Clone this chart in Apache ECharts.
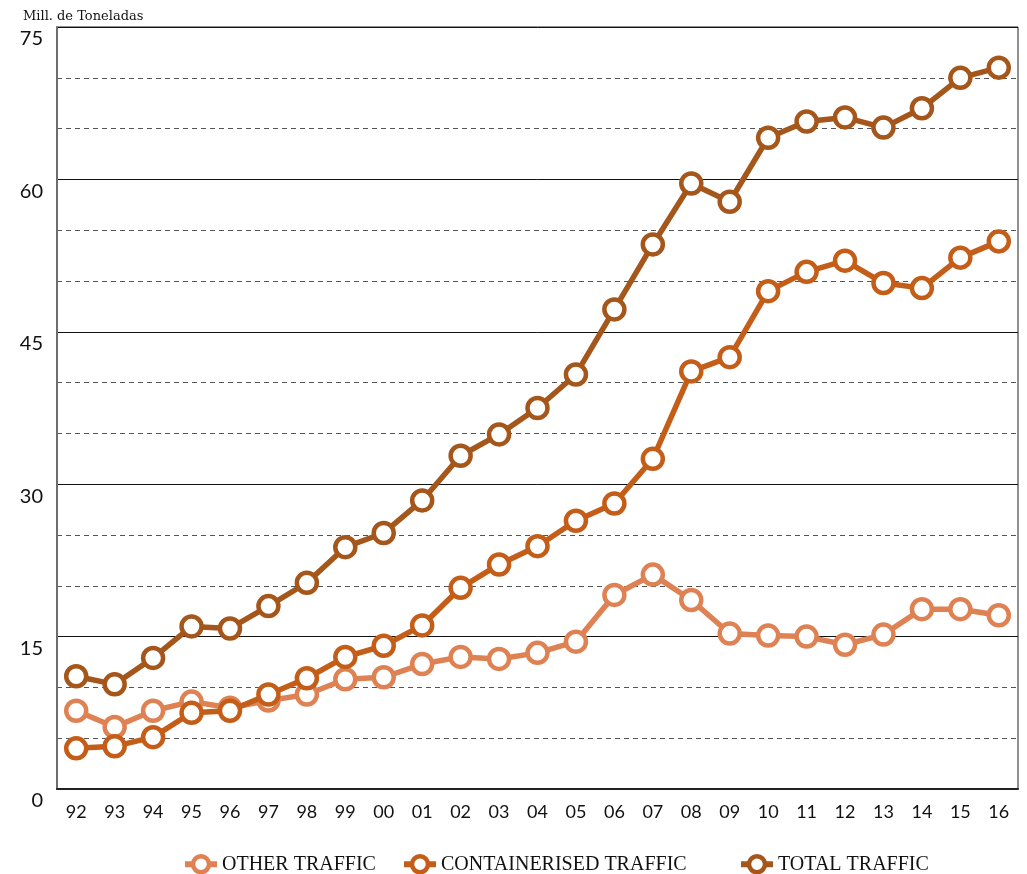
<!DOCTYPE html>
<html><head><meta charset="utf-8">
<script src="https://cdn.jsdelivr.net/npm/echarts@6/dist/echarts.min.js"></script>
<style>html,body{margin:0;padding:0;background:#fff}#c{width:1027px;height:874px}</style>
</head><body><div id="c"></div>
<script>
const years = ['92','93','94','95','96','97','98','99','00','01','02','03','04','05','06','07','08','09','10','11','12','13','14','15','16'];
const otherTraffic = [7.7,6.1,7.7,8.6,8.0,8.7,9.3,10.8,11.0,12.3,13.0,12.8,13.4,14.5,19.1,21.1,18.6,15.3,15.1,15.0,14.2,15.2,17.7,17.7,17.1];
const containerTraffic = [4.0,4.2,5.1,7.5,7.7,9.3,10.9,13.0,14.1,16.1,19.8,22.1,23.9,26.4,28.1,32.5,41.1,42.5,49.0,50.9,52.0,49.8,49.3,52.3,53.9];
const totalTraffic = [11.1,10.3,12.9,16.0,15.8,18.0,20.3,23.8,25.2,28.4,32.8,34.9,37.5,40.8,47.2,53.6,59.6,57.8,64.1,65.7,66.1,65.1,67.0,70.0,71.0];
const seriesNames = ['OTHER TRAFFIC','CONTAINERISED TRAFFIC','TOTAL TRAFFIC'];
const colors = ['#DF8253','#C45D18','#A5561B'];

const chart = echarts.init(document.getElementById('c'));
const mk = (name, data, color, z) => ({
  name, type: 'line', data, z,
  symbol: 'circle', symbolSize: 20,
  lineStyle: {color, width: 5.5},
  itemStyle: {color: '#fff', borderColor: color, borderWidth: 4.5},
  emphasis: {disabled: true}, animation: false
});
const legendBase = {
  top: 849, itemWidth: 32, itemHeight: 20, itemGap: 8,
  lineStyle: {width: 6},
  itemStyle: {borderWidth: 4.5},
  textStyle: {fontFamily: 'Liberation Serif', fontSize: 20, color: '#111'}
};
chart.setOption({
  animation: false,
  grid: {left: 57, right: 9, top: 27, bottom: 85, show: true, borderColor: '#222', borderWidth: 1},
  title: {text: 'Mill. de Toneladas', left: 18, top: 5,
    textStyle: {fontFamily: 'DejaVu Serif', fontWeight: 'normal', fontSize: 13, color: '#111'}},
  legend: [
    Object.assign({}, legendBase, {left: 177, data: [seriesNames[0]]}),
    Object.assign({}, legendBase, {left: 396, data: [seriesNames[1]]}),
    Object.assign({}, legendBase, {left: 733, data: [seriesNames[2]]})
  ],
  xAxis: {
    type: 'category', data: years, boundaryGap: true,
    axisLine: {lineStyle: {color: '#222', width: 2}},
    axisTick: {show: false},
    axisLabel: {fontFamily: 'Lato', fontSize: 18, color: '#111', margin: 14}
  },
  yAxis: {
    type: 'value', min: 0, max: 75, interval: 15,
    axisLine: {show: true, lineStyle: {color: '#6e6e6e', width: 2}},
    axisTick: {show: false},
    axisLabel: {fontFamily: 'Lato', fontSize: 20, color: '#111', margin: 14, verticalAlign: 'top', padding: [2, 0, 0, 0]},
    splitLine: {lineStyle: {color: '#111', width: 1}},
    minorTick: {show: false, splitNumber: 3},
    minorSplitLine: {show: true, lineStyle: {color: '#555', type: [5, 4], width: 1}}
  },
  series: [
    mk(seriesNames[0], otherTraffic, colors[0], 3),
    mk(seriesNames[1], containerTraffic, colors[1], 4),
    mk(seriesNames[2], totalTraffic, colors[2], 5)
  ]
});
</script></body></html>
